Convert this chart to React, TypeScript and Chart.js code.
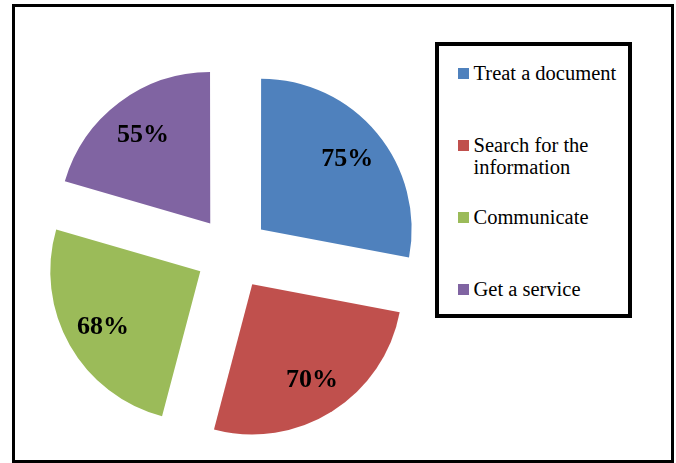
import React, { useEffect, useRef } from "react";
import { Chart, registerables } from "chart.js";

Chart.register(...registerables);

const categories = ["Treat a document", "Search for the information", "Communicate", "Get a service"];
const values = [75, 70, 68, 55];
const valueLabels = ["75%", "70%", "68%", "55%"];
const colors = ["#4F81BD", "#C0504D", "#9BBB59", "#8064A2"];

const sliceLabelPlugin = {
  id: "sliceLabels",
  afterDatasetsDraw(chart: any) {
    const ctx = chart.ctx;
    const meta = chart.getDatasetMeta(0);
    ctx.save();
    ctx.font = "bold 26px 'Liberation Serif', 'Times New Roman', serif";
    ctx.fillStyle = "#000";
    ctx.textAlign = "center";
    ctx.textBaseline = "middle";
    meta.data.forEach((arc: any, i: number) => {
      const p = arc.getCenterPoint();
      ctx.fillText(valueLabels[i], p.x, p.y + 1);
    });
    ctx.restore();
  },
};

export default function App() {
  const canvasRef = useRef<HTMLCanvasElement | null>(null);

  useEffect(() => {
    if (!canvasRef.current) return;
    const chart = new Chart(canvasRef.current, {
      type: "pie",
      data: {
        labels: categories,
        datasets: [
          {
            data: values,
            backgroundColor: colors,
            borderWidth: 0,
            offset: 148,
          },
        ],
      },
      options: {
        animation: false,
        responsive: false,
        maintainAspectRatio: false,
        radius: 150,
        layout: { padding: { left: 0, right: 211, top: 43, bottom: 0 } },
        plugins: {
          legend: { display: false },
          tooltip: { enabled: false },
        },
      } as any,
      plugins: [sliceLabelPlugin],
    });
    return () => chart.destroy();
  }, []);

  return (
    <div style={{ position: "absolute", left: 0, top: 0, width: 676, height: 463, background: "#fff", overflow: "hidden" }}>
      <div
        style={{
          position: "absolute",
          left: 12,
          top: 4,
          width: 662,
          height: 459,
          border: "3px solid #000",
          boxSizing: "border-box",
        }}
      />
      <canvas
        ref={canvasRef}
        width={676}
        height={463}
        style={{ position: "absolute", left: 0, top: 0, display: "block" }}
      />
      <div
        style={{
          position: "absolute",
          left: 435,
          top: 42,
          width: 197,
          height: 276,
          border: "4px solid #000",
          boxSizing: "border-box",
          background: "#fff",
          fontFamily: "'Liberation Serif', 'Times New Roman', serif",
          fontSize: 20.5,
          lineHeight: "22px",
          color: "#000",
        }}
      >
        {categories.map((c, i) => (
          <div key={c} style={{ position: "absolute", left: 19, top: 16 + i * 72, width: 170 }}>
            <div
              style={{
                position: "absolute",
                left: 0,
                top: 6,
                width: 11,
                height: 11,
                background: colors[i],
              }}
            />
            <div style={{ position: "absolute", left: 15.5, top: 0, width: 152 }}>{c}</div>
          </div>
        ))}
      </div>
    </div>
  );
}
